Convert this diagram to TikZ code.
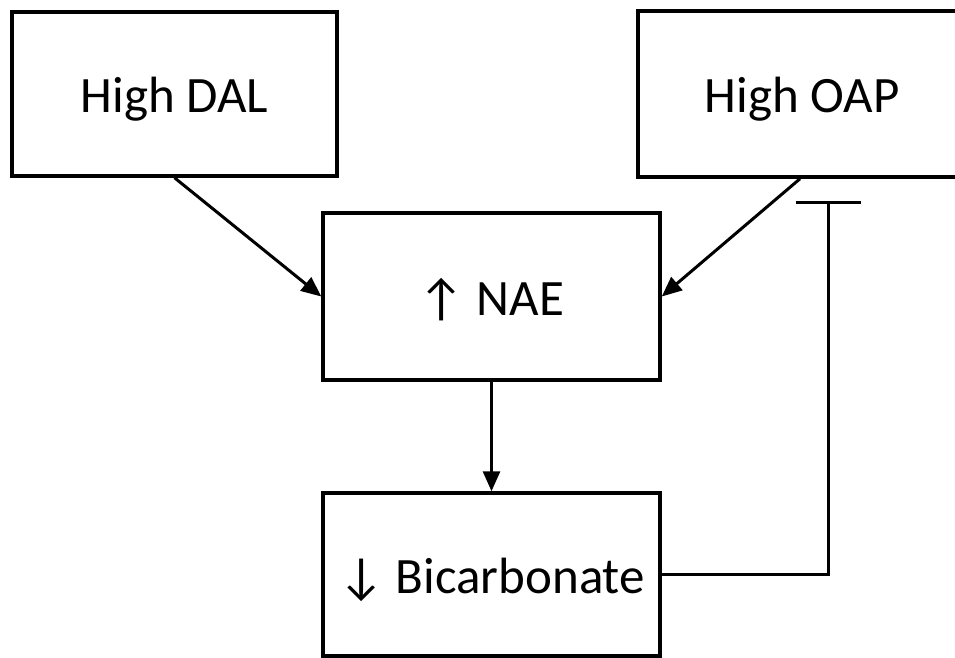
\documentclass[tikz,border=0pt]{standalone}
\usepackage{fontspec}
\setmainfont{Carlito}
\usetikzlibrary{arrows.meta}
\begin{document}
\begin{tikzpicture}[x=1pt,y=-1pt,
  box/.style={draw=black,line width=3.5pt,inner sep=0pt,align=center,
    text height=40pt,text depth=3pt,
    font=\fontsize{51}{60}\selectfont},
  arr/.style={line width=3pt,-{Triangle[length=20pt,width=17pt]}},
  inh/.style={line width=3pt,-{Bar[width=65pt,line width=3pt]}}]
\useasboundingbox (0,0) rectangle (955,658);
\node[box,minimum width=325pt,minimum height=164pt] (dal) at (174.5,94) {High DAL};
\node[box,minimum width=328pt,minimum height=166pt] (oap) at (802,94) {High OAP};
\node[box,minimum width=337pt,minimum height=167pt] (nae) at (491.5,296.5) {↑ NAE};
\node[box,minimum width=337pt,minimum height=163pt] (bic) at (491.5,574.5) {↓ Bicarbonate};
\coordinate (tee) at (828,201);
\draw[arr] (dal.south) -- (nae.west);
\draw[arr] ([xshift=-2pt]oap.south) -- (nae.east);
\draw[arr] (nae.south) -- (bic.north);
\draw[inh] (bic.east) -| (tee);
\end{tikzpicture}
\end{document}
